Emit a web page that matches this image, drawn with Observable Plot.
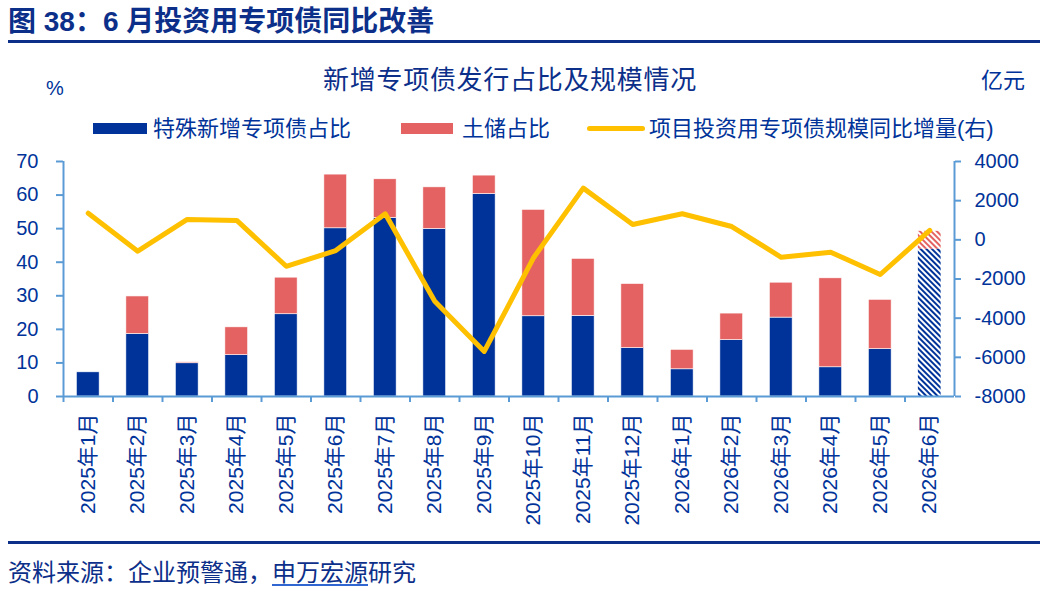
<!DOCTYPE html>
<html lang="zh-CN">
<head>
<meta charset="utf-8">
<title>新增专项债发行占比及规模情况</title>
<script src="https://cdn.jsdelivr.net/npm/d3@7"></script>
<script src="https://cdn.jsdelivr.net/npm/@observablehq/plot@0.6"></script>
<style>
  html, body { margin: 0; padding: 0; background: #fff; }
  #page {
    position: relative; width: 1056px; height: 594px; overflow: hidden; background: #fff;
    font-family: "Liberation Sans", "Noto Sans CJK SC", sans-serif; color: #0c2f8a;
  }
  .abs { position: absolute; white-space: nowrap; }
  #title { left: 8px; top: 7px; font-size: 28px; line-height: 30px; font-weight: bold; color: #0c2f8a;
           font-family: "Liberation Sans", "Noto Sans CJK SC", sans-serif; }
  .rule { position: absolute; left: 8px; width: 1032px; height: 3px; background: #0c2f8a; }
  #subtitle { left: 510px; top: 63px; transform: translateX(-50%); font-size: 26px; line-height: 30px;
              letter-spacing: 0.7px; font-family: "Noto Sans CJK SC", sans-serif; color: #0c2f8a; }
  #unitL { left: 46px; top: 76px; font-size: 20px; line-height: 24px; color: #003399; }
  #unitR { left: 981px; top: 65px; font-size: 22px; line-height: 26px; color: #003399;
           font-family: "Noto Sans CJK SC", sans-serif; }
  .legend-text { top: 115px; font-size: 22px; line-height: 28px; color: #003399;
                 font-family: "Liberation Sans", "Noto Sans CJK SC", sans-serif; }
  .swatch { position: absolute; top: 123px; height: 11px; }
  #chart { position: absolute; left: 0; top: 150px; }
  #source { left: 8px; top: 557px; font-size: 24px; line-height: 28px; color: #0c2f8a;
            font-family: "Noto Sans CJK SC", sans-serif; }
  #source u { text-decoration-color: #2f66d0; text-underline-offset: 3px; }
</style>
</head>
<body>
<div id="page">
  <!-- hatch fills for the projected month -->
  <svg width="0" height="0" style="position:absolute">
    <defs>
      <pattern id="hatch-navy" patternUnits="userSpaceOnUse" width="4" height="4" patternTransform="rotate(-45)">
        <rect width="4" height="4" fill="#ffffff"></rect>
        <rect x="0" y="0" width="2" height="4" fill="#003399"></rect>
      </pattern>
      <pattern id="hatch-red" patternUnits="userSpaceOnUse" width="4" height="4" patternTransform="rotate(-45)">
        <rect width="4" height="4" fill="#ffffff"></rect>
        <rect x="0" y="0" width="2" height="4" fill="#e46262"></rect>
      </pattern>
    </defs>
  </svg>

  <div id="title" class="abs">图 38：6 月投资用专项债同比改善</div>
  <div class="rule" style="top:40px"></div>

  <div id="subtitle" class="abs">新增专项债发行占比及规模情况</div>
  <div id="unitL" class="abs">%</div>
  <div id="unitR" class="abs">亿元</div>

  <div class="swatch" style="left:93px;width:54px;background:#003399"></div>
  <div class="abs legend-text" style="left:153px">特殊新增专项债占比</div>
  <div class="swatch" style="left:401px;width:52px;background:#e46262"></div>
  <div class="abs legend-text" style="left:462px">土储占比</div>
  <div class="swatch" style="left:587px;top:126px;width:58px;height:5px;border-radius:3px;background:#ffc000"></div>
  <div class="abs legend-text" style="left:649px">项目投资用专项债规模同比增量(右)</div>

  <div id="chart"></div>

  <div class="rule" style="top:541px"></div>
  <div id="source" class="abs">资料来源：企业预警通，<u>申万宏源</u>研究</div>
</div>

<script>
// Months on the category axis
const months = [
  "2025年1月", "2025年2月", "2025年3月", "2025年4月", "2025年5月", "2025年6月",
  "2025年7月", "2025年8月", "2025年9月", "2025年10月", "2025年11月", "2025年12月",
  "2026年1月", "2026年2月", "2026年3月", "2026年4月", "2026年5月", "2026年6月"
];
// Share of special new special-purpose bonds (%)
const specialShare = [7.2, 18.6, 9.9, 12.3, 24.5, 50.1, 53.2, 49.9, 60.3, 23.9, 24.0, 14.4, 8.1, 16.8, 23.5, 8.7, 14.1, 43.9];
// Share of land-reserve bonds (%), stacked on top
const landShare = [0, 11.2, 0.3, 8.3, 10.9, 16.0, 11.5, 12.4, 5.5, 31.7, 17.0, 19.1, 5.8, 7.9, 10.4, 26.5, 14.7, 5.3];
// YoY change in project-investment special bonds (亿元, right axis)
const yoyChange = [1360, -580, 1040, 990, -1350, -550, 1330, -3140, -5700, -900, 2640, 780, 1330, 680, -890, -630, -1770, 480];
// Axis ticks
const leftTicks = [0, 10, 20, 30, 40, 50, 60, 70];
const rightTicks = [-8000, -6000, -4000, -2000, 0, 2000, 4000];

const leftDomain = [0, 70];
const rightDomain = [-8000, 4000];

// map right-axis values onto the left scale and back
const toLeft = v => leftDomain[0] + (v - rightDomain[0]) * (leftDomain[1] - leftDomain[0]) / (rightDomain[1] - rightDomain[0]);
const toRight = v => rightDomain[0] + (v - leftDomain[0]) * (rightDomain[1] - rightDomain[0]) / (leftDomain[1] - leftDomain[0]);

const lastMonth = months[months.length - 1];
const rows = months.map((m, i) => ({
  month: m,
  special: specialShare[i],
  land: landShare[i],
  yoy: yoyChange[i],
  projected: m === lastMonth
}));
const solid = rows.filter(d => !d.projected);
const hatched = rows.filter(d => d.projected);

const navy = "#003399";
const red = "#e46262";
const gold = "#ffc000";
const axisBlue = "#5b9bd5";
const labelBlue = "#003399";

const width = 1056, height = 380;
const marginLeft = 63, marginRight = 102, marginTop = 11, marginBottom = 134;
const halfStep = (width - marginLeft - marginRight) / months.length / 2;

const chart = Plot.plot({
  width, height, marginLeft, marginRight, marginTop, marginBottom,
  style: {fontFamily: "'Liberation Sans', 'Noto Sans CJK SC', sans-serif", color: labelBlue, background: "transparent", overflow: "visible"},
  x: {domain: months, paddingInner: 0.54, paddingOuter: 0.27, round: false, axis: null},
  y: {domain: leftDomain, axis: null},
  marks: [
    // stacked bars
    Plot.barY(solid, {x: "month", y1: 0, y2: "special", fill: navy, stroke: "#ffffff", strokeWidth: 0.6}),
    Plot.barY(solid, {x: "month", y1: "special", y2: d => d.special + d.land, fill: red, stroke: "#ffffff", strokeWidth: 0.6}),
    Plot.barY(hatched, {x: "month", y1: 0, y2: "special", fill: "url(#hatch-navy)"}),
    Plot.barY(hatched, {x: "month", y1: "special", y2: d => d.special + d.land, fill: "url(#hatch-red)"}),
    // axis lines
    Plot.ruleY([0], {stroke: axisBlue, strokeWidth: 2}),
    Plot.ruleX([months[0]], {x: d => d, y1: leftDomain[0], y2: leftDomain[1], dx: -halfStep, stroke: axisBlue, strokeWidth: 2}),
    Plot.ruleX([lastMonth], {x: d => d, y1: leftDomain[0], y2: leftDomain[1], dx: halfStep, stroke: axisBlue, strokeWidth: 2}),
    // left axis
    Plot.axisY({anchor: "left", ticks: leftTicks, tickSize: 7, tickPadding: 18, stroke: axisBlue, strokeWidth: 2, fill: labelBlue, fontSize: 20, label: null}),
    // right axis
    Plot.axisY({anchor: "right", ticks: rightTicks.map(toLeft), tickFormat: v => String(Math.round(toRight(v))),
      tickSize: 6, tickPadding: 14, stroke: axisBlue, strokeWidth: 2, fill: labelBlue, fontSize: 20, label: null}),
    // x ticks between categories
    Plot.axisX({anchor: "bottom", tickSize: 6, tickFormat: () => "", dx: -halfStep, stroke: axisBlue, strokeWidth: 2, label: null}),
    // rotated month labels
    Plot.axisX({anchor: "bottom", tickSize: 0, tickPadding: 17, tickRotate: -90, fill: labelBlue, fontSize: 21, label: null}),
    // YoY line on the right scale
    Plot.lineY(rows, {x: "month", y: d => toLeft(d.yoy), stroke: gold, strokeWidth: 5, strokeLinejoin: "round", strokeLinecap: "round"})
  ]
});
document.getElementById("chart").appendChild(chart);
</script>
</body>
</html>
